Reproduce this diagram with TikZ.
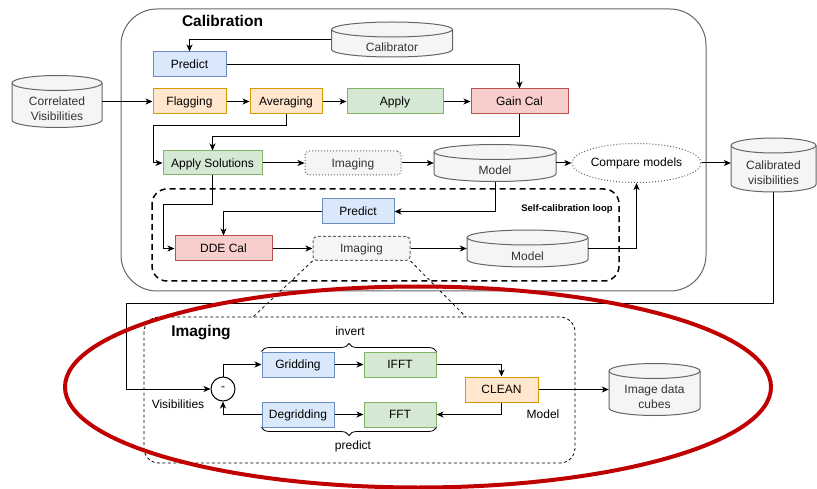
\documentclass[tikz,border=0pt]{standalone}
\usepackage{fontspec}
\setmainfont{Liberation Sans}
\usetikzlibrary{arrows.meta,decorations.pathreplacing,shapes.geometric}
\definecolor{bluef}{HTML}{DAE8FC}\definecolor{blued}{HTML}{6C8EBF}
\definecolor{orf}{HTML}{FFE6CC}\definecolor{ord}{HTML}{D79B00}
\definecolor{grf}{HTML}{D5E8D4}\definecolor{grd}{HTML}{82B366}
\definecolor{rdf}{HTML}{F8CECC}\definecolor{rdd}{HTML}{B85450}
\definecolor{gyf}{HTML}{F5F5F5}\definecolor{gyd}{HTML}{666666}
\definecolor{gyt}{HTML}{333333}
\definecolor{redmark}{HTML}{C00000}
\newcommand\cylnode[6]{%
  \path[fill=gyf,draw=gyd,line width=1pt] (#2-#4/2,#3-#5/2+7.5) -- (#2-#4/2,#3+#5/2-7.5)
    arc[start angle=180,end angle=0,x radius=#4/2,y radius=7.5] -- (#2+#4/2,#3-#5/2+7.5)
    arc[start angle=0,end angle=-180,x radius=#4/2,y radius=7.5] -- cycle;
  \draw[gyd,line width=1pt] (#2-#4/2,#3-#5/2+7.5) arc[start angle=180,end angle=0,x radius=#4/2,y radius=7.5];
  \node[inner sep=0,minimum width=#4,minimum height=#5] (#1) at (#2,#3) {};
  \node[txt,text=gyt,align=center] (#1-t) at (#2,#3+7.5) {#6};
}
\tikzset{
  txt/.style={font=\fontsize{12}{15}\selectfont,inner sep=0},
  box/.style={txt,draw,line width=1pt,minimum height=25,text=black,text height=8.6pt,text depth=0pt},
  bl/.style={box,fill=bluef,draw=blued},
  og/.style={box,fill=orf,draw=ord},
  gn/.style={box,fill=grf,draw=grd},
  rd/.style={box,fill=rdf,draw=rdd},
  imgbox/.style={box,fill=gyf,draw=gyd,text=gyt,rounded corners=4,minimum height=24},
  arr/.style={line width=1pt,-{Stealth[length=7pt,width=6pt,inset=2pt]}},
}
\begin{document}
\begin{tikzpicture}[x=1pt,y=-1pt]
\useasboundingbox (0,0) rectangle (817,489);
\fill[white] (0,0) rectangle (817,489);

% Calibration container
\draw[gyd,line width=1pt,rounded corners=36] (121,9) rectangle (706,291);
\node[font=\fontsize{15.5}{18}\selectfont\bfseries,inner sep=0] (caltitle) at (222.5,21) {Calibration};

% self-calibration loop
\draw[line width=1.5pt,dash pattern=on 6pt off 4pt,rounded corners=15] (152,189) rectangle (619,281);
\node[font=\fontsize{9.5}{11}\selectfont\bfseries,inner sep=0] (sclabel) at (567,209) {Self-calibration loop};

% cylinders
\cylnode{calib}{392}{39.5}{121}{35}{Calibrator}
\cylnode{corr}{57}{101.5}{90}{52}{Correlated\\Visibilities}
\cylnode{model1}{495}{163}{122}{37}{Model}
\cylnode{model2}{527.5}{248.5}{121}{37}{Model}
\cylnode{calvis}{773.5}{165}{85}{54}{Calibrated\\visibilities}
\cylnode{cubes}{654.5}{389.5}{91}{52}{Image data\\cubes}

% boxes
\node[bl,minimum width=73] (pred1) at (189.5,64.5) {Predict};
\node[og,minimum width=73] (flag) at (189.5,101.5) {Flagging};
\node[og,minimum width=72] (avg) at (286,101.5) {Averaging};
\node[gn,minimum width=96] (apply) at (395,101.5) {Apply};
\node[rd,minimum width=97] (gain) at (519.5,101.5) {Gain Cal};
\node[gn,minimum width=99,minimum height=24] (appsol) at (212.5,163) {Apply Solutions};
\node[imgbox,minimum width=96,dotted] (img1) at (353,163) {Imaging};
\node[txt,draw=gyd,line width=1pt,dotted,ellipse,minimum width=115,minimum height=39,text=black] (compare) at (636.5,163) {Compare models};
\node[bl,minimum width=72] (pred2) at (358,211.5) {Predict};
\node[rd,minimum width=97] (dde) at (223.5,248.5) {DDE Cal};
\node[imgbox,minimum width=97,dash pattern=on 3pt off 2pt] (img2) at (361.5,248.5) {Imaging};

% calibration connectors
\draw[arr] (calib.west) -| (pred1.north);
\draw[arr] (pred1.east) -| (gain.north);
\draw[arr] (corr.east) -- (flag.west);
\draw[arr] (flag) -- (avg);
\draw[arr] (avg) -- (apply);
\draw[arr] (apply) -- (gain);
\coordinate (j1) at (153,126);
\draw[arr] (avg.south) |- (j1) |- (appsol.west);
\coordinate (j2) at (212.5,137);
\draw[arr] (gain.south) |- (j2) -- (appsol.north);
\draw[arr] (appsol) -- (img1);
\draw[arr] (img1.east) -- (img1.east -| model1.west);
\draw[arr] (model1.east |- compare.west) -- (compare.west);
\draw[arr] (compare.east) -- (compare.east -| calvis.west);
\draw[arr] (model1.south) |- (pred2.east);
\draw[arr] (pred2.west) -| (dde.north);
\coordinate (j3) at (163,205);
\draw[arr] (appsol.south) |- (j3) |- (dde.west);
\draw[arr] (dde) -- (img2);
\draw[arr] (img2.east) -- (img2.east -| model2.west);
\draw[arr] (model2.east) -| (compare.south);

% imaging section
\draw[line width=0.8pt,dash pattern=on 3pt off 2.5pt,rounded corners=15] (144,317) rectangle (575,463);
\node[font=\fontsize{15.5}{18}\selectfont\bfseries,inner sep=0] (imtitle) at (201,333) {Imaging};
\coordinate (ib1) at (253,317);
\coordinate (ib2) at (466,317);
\draw[line width=0.8pt,dash pattern=on 3pt off 3pt] (img2.south west) -- (ib1);
\draw[line width=0.8pt,dash pattern=on 3pt off 3pt] (img2.south east) -- (ib2);

\node[txt,draw,circle,line width=1pt,minimum size=24] (circ) at (223,389) {-};
\node[bl,minimum width=72] (grid) at (298,364.5) {Gridding};
\node[gn,minimum width=72] (ifft) at (400,364.5) {IFFT};
\node[bl,minimum width=72] (degrid) at (298,414.5) {Degridding};
\node[gn,minimum width=72] (fft) at (400,414.5) {FFT};
\node[og,minimum width=73] (clean) at (501.5,389.5) {CLEAN};

\node[txt] (vislbl) at (178,404) {Visibilities};
\node[txt] (modlbl) at (543,414) {Model};
\node[txt] (invlbl) at (350,331) {invert};
\node[txt] (prdlbl) at (353,446) {predict};

\draw[line width=0.8pt,decorate,decoration={brace,amplitude=8pt}] (grid.north west) -- (ifft.north east);
\draw[line width=0.8pt,decorate,decoration={brace,amplitude=8pt}] (fft.south east) -- (degrid.south west);

\coordinate (j4) at (126,303);
\draw[arr] (calvis.south) |- (j4) |- (circ.west);
\draw[arr] (circ.north) |- (grid.west);
\draw[arr] (grid) -- (ifft);
\draw[arr] (ifft.east) -| (clean.north);
\draw[arr] (clean.south) |- (fft.east);
\draw[arr] (degrid) -- (fft);
\draw[arr] (degrid.west) -| (circ.south);
\draw[arr] (clean.east) -- (cubes.west);

% red annotation ellipse
\draw[redmark,line width=4pt] (418,387) ellipse [x radius=353, y radius=100.5];
\end{tikzpicture}
\end{document}
